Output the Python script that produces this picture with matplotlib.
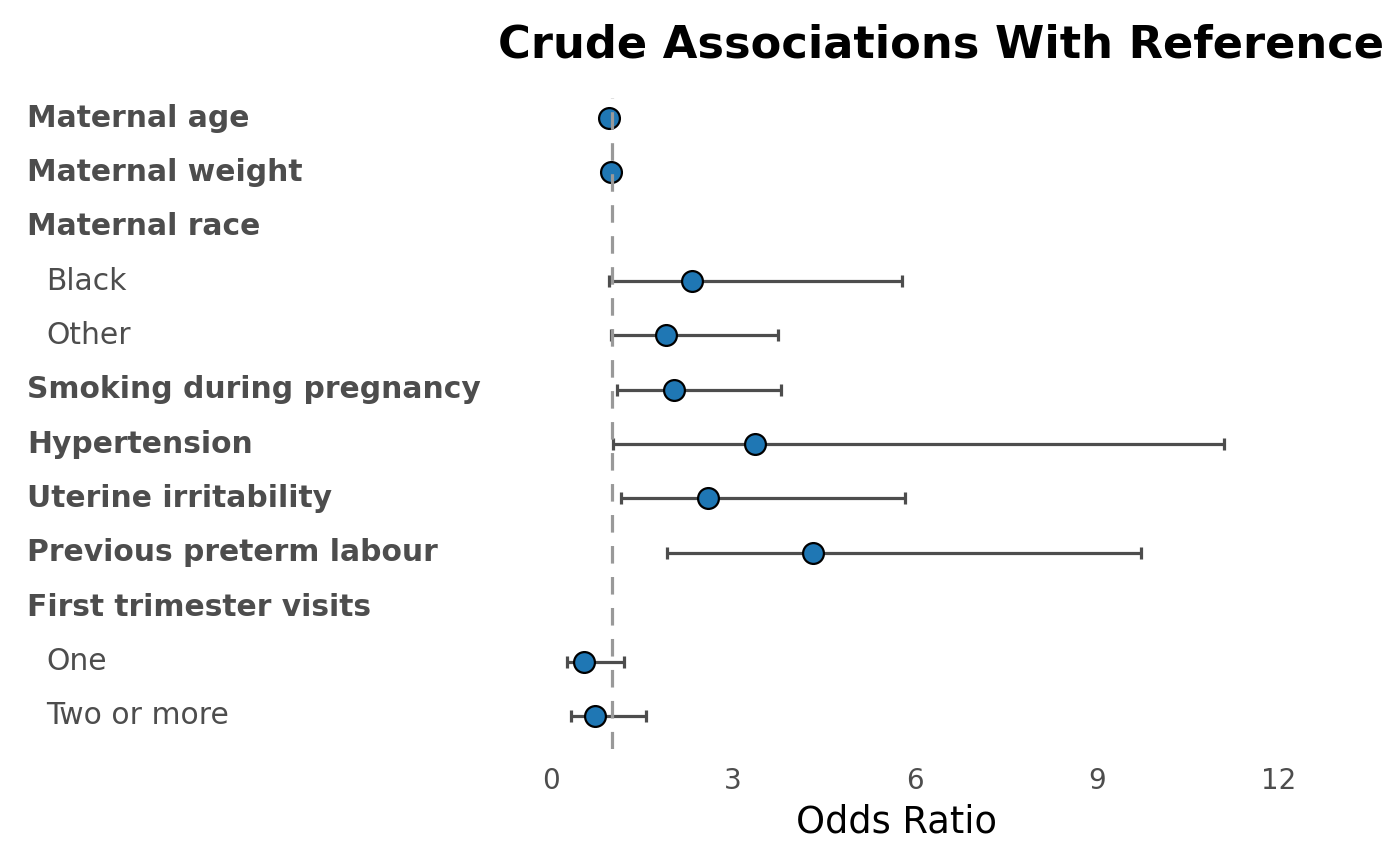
import numpy as np
import matplotlib
matplotlib.use("Agg")
import matplotlib.pyplot as plt
from matplotlib.transforms import blended_transform_factory

labels = ["Maternal age", "Maternal weight", "Maternal race", "Black", "Other",
          "Smoking during pregnancy", "Hypertension", "Uterine irritability",
          "Previous preterm labour", "First trimester visits", "One", "Two or more"]
is_header = [True, True, True, False, False, True, True, True, True, True, False, False]
odds = [0.96, 0.99, np.nan, 2.33, 1.89, 2.02, 3.37, 2.58, 4.32, np.nan, 0.54, 0.72]
ci_low = [0.91, 0.97, np.nan, 0.95, 0.99, 1.09, 1.02, 1.15, 1.91, np.nan, 0.26, 0.33]
ci_high = [1.01, 1.00, np.nan, 5.79, 3.75, 3.79, 11.10, 5.84, 9.73, np.nan, 1.20, 1.57]
x_ticks = [0, 3, 6, 9, 12]
ref_value = 1.0

W, H = 1400, 865
fig = plt.figure(figsize=(W / 100, H / 100), dpi=100)
ax = fig.add_axes([510 / W, 1 - 749 / H, (1282 - 510) / W, (749 - 98) / H])

y = np.arange(len(labels))
odds_a = np.array(odds)
lo_a = np.array(ci_low)
hi_a = np.array(ci_high)
mask = ~np.isnan(odds_a)

ax.errorbar(odds_a[mask], y[mask],
            xerr=[odds_a[mask] - lo_a[mask], hi_a[mask] - odds_a[mask]],
            fmt='none', ecolor='#4d4d4d', elinewidth=2.3, capsize=4, capthick=2.3, zorder=2)
ax.plot(odds_a[mask], y[mask], 'o', ms=15, mfc='#1f77b4', mec='black', mew=1.6,
        linestyle='none', zorder=3)
ax.axvline(ref_value, color='#999999', lw=2.3, dashes=(5.5, 4.2), zorder=4)

ax.set_ylim(len(labels) - 1 + 0.61, -0.37)
ax.set_xlim(-0.676, 12.05)
ax.set_yticks([])
ax.set_xticks(x_ticks)
ax.set_xticklabels([str(t) for t in x_ticks])
ax.tick_params(axis='x', length=0, labelsize=20, labelcolor='#4d4d4d', pad=13)
for s in ax.spines.values():
    s.set_visible(False)
ax.set_xlabel("Odds Ratio", fontsize=26.5, color='black', labelpad=6)

trans = blended_transform_factory(fig.transFigure, ax.transData)
for yi, (lab, hdr) in enumerate(zip(labels, is_header)):
    if hdr:
        ax.text(27 / W, yi, lab, transform=trans, ha='left', va='center',
                fontsize=21.4, fontweight='bold', color='#4d4d4d')
    else:
        ax.text(46 / W, yi, lab, transform=trans, ha='left', va='center',
                fontsize=21.4, color='#4d4d4d')

fig.text(498 / W, 1 - 57 / H, "Crude Associations With Reference", ha='left',
         va='baseline', fontsize=32.2, fontweight='bold', color='black')

fig.savefig("out.png", dpi=100, facecolor='white')
